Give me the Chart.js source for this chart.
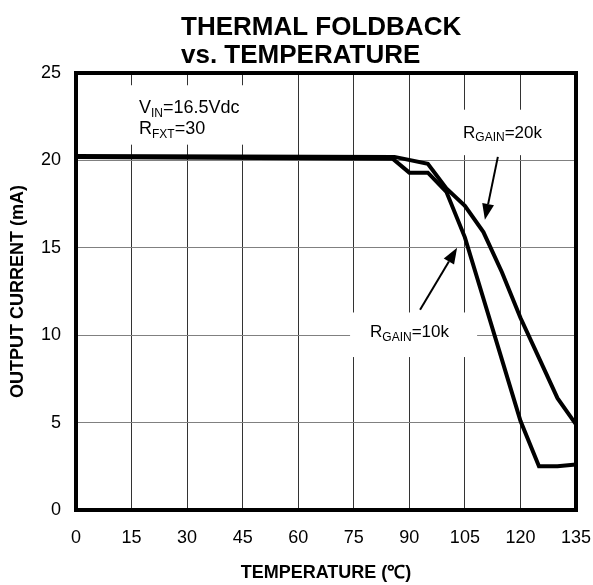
<!DOCTYPE html>
<html>
<head>
<meta charset="utf-8">
<script src="https://cdn.jsdelivr.net/npm/chart.js@4.4.1/dist/chart.umd.min.js"></script>
<style>
  html, body { margin: 0; padding: 0; background: #fff; }
  #wrap { width: 593px; height: 585px; }
</style>
</head>
<body>
<div id="wrap"><canvas id="chart"></canvas></div>
<script>
const FONT = '"Liberation Sans", Arial, sans-serif';

const xTicks = [0, 15, 30, 45, 60, 75, 90, 105, 120, 135];
const yTicks = [0, 5, 10, 15, 20, 25];

// R_GAIN = 10k
const temp10k = [0, 85.5, 90, 95, 100, 105, 110, 115, 120, 125, 130, 135];
const current10k = [20.2, 20.1, 19.3, 19.3, 18.2, 15.6, 12.1, 8.6, 5.1, 2.5, 2.5, 2.6];
// R_GAIN = 20k
const temp20k = [0, 86, 95, 100, 105, 110, 115, 120, 125, 130, 135];
const current20k = [20.25, 20.2, 19.8, 18.4, 17.4, 15.9, 13.6, 11.0, 8.7, 6.4, 4.9];

const titleLines = ['THERMAL FOLDBACK', 'vs. TEMPERATURE'];

function toPts(xs, ys) {
  return xs.map((x, i) => ({ x, y: ys[i] }));
}

// text with subscripts: parts = [[text, isSub], ...]
function drawRich(ctx, x, y, parts, size) {
  let cx = x;
  parts.forEach(([t, sub]) => {
    const s = sub ? Math.round(size * 0.68) : size;
    ctx.font = s + 'px ' + FONT;
    ctx.fillText(t, cx, sub ? y + size * 0.22 : y);
    cx += ctx.measureText(t).width;
  });
}

function arrow(ctx, x1, y1, x2, y2) {
  const a = Math.atan2(y2 - y1, x2 - x1);
  const len = 16, half = 6;
  const bx = x2 - len * Math.cos(a), by = y2 - len * Math.sin(a);
  ctx.lineWidth = 2;
  ctx.beginPath();
  ctx.moveTo(x1, y1);
  ctx.lineTo(bx, by);
  ctx.stroke();
  ctx.beginPath();
  ctx.moveTo(x2, y2);
  ctx.lineTo(bx + half * Math.sin(a), by - half * Math.cos(a));
  ctx.lineTo(bx - half * Math.sin(a), by + half * Math.cos(a));
  ctx.closePath();
  ctx.fill();
}

const notes = {
  id: 'notes',
  beforeDatasetsDraw(chart) {
    const { ctx, scales: { x, y } } = chart;
    ctx.save();
    //white boxes behind the labels hide the grid
    ctx.fillStyle = '#fff';
    [[9, 46, 20.9, 24.3], [101, 134, 20.3, 22.9], [74, 108.3, 8.75, 11.3]].forEach(b => {
      const l = x.getPixelForValue(b[0]), r = x.getPixelForValue(b[1]);
      const t = y.getPixelForValue(b[3]), bt = y.getPixelForValue(b[2]);
      ctx.fillRect(l, t, r - l, bt - t);
    });
    ctx.fillStyle = '#000';
    ctx.textBaseline = 'alphabetic';
    ctx.textAlign = 'left';
    drawRich(ctx, x.getPixelForValue(17), y.getPixelForValue(22.7), [['V'], ['IN', 1], ['=16.5Vdc']], 18);
    drawRich(ctx, x.getPixelForValue(17), y.getPixelForValue(21.5), [['R'], ['FXT', 1], ['=30']], 18);
    drawRich(ctx, x.getPixelForValue(104.5), y.getPixelForValue(21.3), [['R'], ['GAIN', 1], ['=20k']], 17);
    drawRich(ctx, x.getPixelForValue(79.4), y.getPixelForValue(9.9), [['R'], ['GAIN', 1], ['=10k']], 17);
    ctx.restore();
  },
  afterDatasetsDraw(chart) {
    const { ctx, chartArea: a, scales: { x, y } } = chart;
    ctx.save();
    ctx.strokeStyle = '#000';
    ctx.fillStyle = '#000';
    arrow(ctx, x.getPixelForValue(113.9), y.getPixelForValue(20.2), x.getPixelForValue(110.4), y.getPixelForValue(16.6));
    arrow(ctx, x.getPixelForValue(92.9), y.getPixelForValue(11.45), x.getPixelForValue(102.9), y.getPixelForValue(15.0));
    ctx.lineWidth = 4;
    ctx.strokeRect(a.left, a.top, a.right - a.left, a.bottom - a.top);
    ctx.restore();
  },
  afterDraw(chart) {
    const { ctx } = chart;
    ctx.save();
    ctx.fillStyle = '#000';
    ctx.textAlign = 'left';
    ctx.textBaseline = 'alphabetic';
    ctx.font = 'bold 26px ' + FONT;
    ctx.fillText(titleLines[0], 181, 35);
    ctx.fillText(titleLines[1], 181, 63);
    ctx.restore();
  }
};

new Chart(document.getElementById('chart'), {
  type: 'line',
  data: {
    datasets: [
      { label: 'RGAIN=20k', data: toPts(temp20k, current20k), borderColor: '#000', borderWidth: 4, pointRadius: 0, tension: 0 },
      { label: 'RGAIN=10k', data: toPts(temp10k, current10k), borderColor: '#000', borderWidth: 4, pointRadius: 0, tension: 0 }
    ]
  },
  options: {
    responsive: true,
    maintainAspectRatio: false,
    animation: false,
    layout: { padding: { top: 73, right: 17, left: 0, bottom: 0 } },
    plugins: { legend: { display: false }, tooltip: { enabled: false }, title: { display: false } },
    scales: {
      x: {
        type: 'linear',
        min: 0, max: 135,
        afterBuildTicks: s => { s.ticks = xTicks.map(v => ({ value: v })); },
        afterFit: s => { s.height = 75; s.paddingLeft = 0; s.paddingRight = 0; },
        grid: { color: '#333', lineWidth: 1, drawTicks: false },
        border: { display: false },
        ticks: { color: '#000', padding: 17, maxRotation: 0, font: { family: FONT, size: 18 } },
        title: { display: true, text: 'TEMPERATURE (℃)', color: '#000', padding: { top: 0, bottom: 1 }, font: { family: FONT, size: 18, weight: 'bold' } }
      },
      y: {
        min: 0, max: 25,
        afterBuildTicks: s => { s.ticks = yTicks.map(v => ({ value: v })); },
        afterFit: s => { s.width = 76; s.paddingTop = 0; s.paddingBottom = 0; },
        grid: { color: '#808080', lineWidth: 1, drawTicks: false },
        border: { display: false },
        ticks: { color: '#000', padding: 15, font: { family: FONT, size: 18 } },
        title: { display: true, text: 'OUTPUT CURRENT (mA)', color: '#000', padding: { top: 7, bottom: 0 }, font: { family: FONT, size: 18, weight: 'bold' } }
      }
    }
  },
  plugins: [notes]
});
</script>
</body>
</html>
